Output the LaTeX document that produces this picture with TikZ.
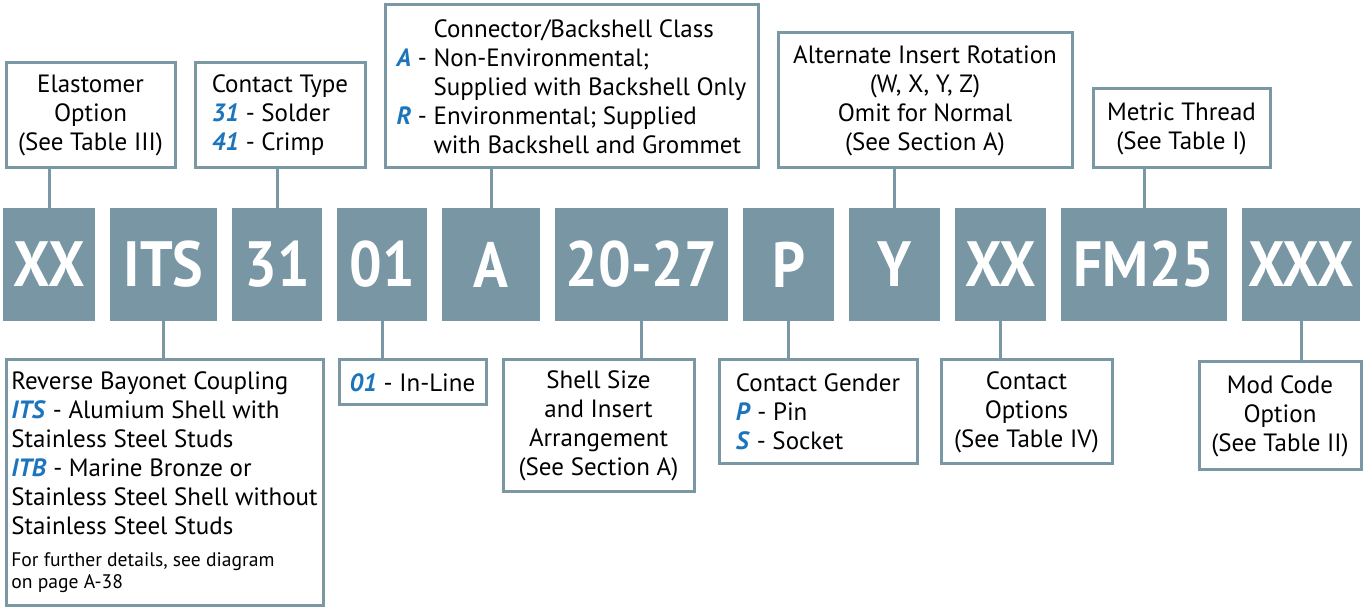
\documentclass[tikz,border=0pt]{standalone}
\usepackage{fontspec}
\setmainfont{PT Sans}
\newfontfamily\partfont[FakeStretch=0.9]{PT Sans}
\usepackage{xcolor}
\usepackage{tikz}
\usetikzlibrary{positioning}
\definecolor{slate}{HTML}{7896A3}
\definecolor{slateB}{HTML}{7A97A4}
\definecolor{selBlue}{HTML}{1C75BC}
\newcommand{\sel}[1]{\textcolor{selBlue}{\textbf{\textit{#1}}}}
\newcommand{\hang}{\phantom{\sel{A} - }}

\begin{document}
\begin{tikzpicture}[x=0.5pt, y=-0.5pt, part/.style={fill=slate, text=white, minimum height=56.5pt, inner sep=0pt, outer sep=0pt, font=\partfont\bfseries\fontsize{32}{32}\selectfont},desc/.style={draw=slateB, line width=1.5pt, fill=white, inner sep=0pt, align=center, font=\fontsize{12.5}{14.5}\selectfont},tie/.style={draw=slateB, line width=1.5pt}]
\useasboundingbox (0,0) rectangle (1365,608);
% part number
\node[part, minimum width=46pt] (elo) at (49,264.5) {XX};
\node[part, minimum width=53.5pt, right=7.5pt of elo] (its) {ITS};
\node[part, minimum width=45pt, right=7.5pt of its] (ctype) {31};
\node[part, minimum width=45pt, right=7.5pt of ctype] (line) {01};
\node[part, minimum width=49pt, right=7.5pt of line] (cls) {A};
\node[part, minimum width=86.5pt, right=7.5pt of cls] (size) {20-27};
\node[part, minimum width=45.5pt, right=7.5pt of size] (gen) {P};
\node[part, minimum width=45.5pt, right=7.5pt of gen] (rot) {Y};
\node[part, minimum width=45.5pt, right=7.5pt of rot] (opt) {XX};
\node[part, minimum width=83pt, right=7.5pt of opt] (thr) {FM25};
\node[part, minimum width=59pt, right=7.5pt of thr] (mod) {XXX};
% above the row
\node[desc, minimum width=84.5pt, minimum height=52.5pt] (elo-d) at (90.5,115.5) {Elastomer\\Option\\(See Table III)};
\node[desc, align=left, minimum width=85pt, minimum height=52.5pt] (ctype-d) at (280,115.5) {Contact Type\\\sel{31} - Solder\\\sel{41} - Crimp};
\node[desc, align=left, minimum width=186.5pt, minimum height=81.5pt] (cls-d) at (571.5,86.5) {\hang Connector/Backshell Class\\\sel{A} - Non-Environmental;\\\hang Supplied with Backshell Only\\\sel{R} - Environmental; Supplied\\\hang with Backshell and Grommet};
\node[desc, minimum width=147pt, minimum height=67.5pt] (rot-d) at (925,100.5) {Alternate Insert Rotation\\(W, X, Y, Z)\\Omit for Normal\\(See Section A)};
\node[desc, minimum width=88.5pt, minimum height=39.5pt] (thr-d) at (1181.5,128.5) {Metric Thread\\(See Table I)};
% below the row
\node[desc, align=left, minimum width=158.5pt, minimum height=123pt] (its-d) at (164.5,483) {Reverse Bayonet Coupling\\\sel{ITS} - Alumium Shell with\\Stainless Steel Studs\\\sel{ITB} - Marine Bronze or\\Stainless Steel Shell without\\Stainless Steel Studs\\[1.5pt]{\fontsize{9.8}{11}\selectfont\begin{tabular}[t]{@{}l@{}}For further details, see diagram\\on page A-38\end{tabular}}};
\node[desc, minimum width=73.5pt, minimum height=22.5pt] (line-d) at (412.5,382.5) {\sel{01} - In-Line};
\node[desc, minimum width=95.5pt, minimum height=66pt] (size-d) at (598.5,426) {Shell Size\\and Insert\\Arrangement\\(See Section A)};
\node[desc, align=left, minimum width=99pt, minimum height=52pt] (gen-d) at (818,412) {Contact Gender\\\sel{P} - Pin\\\sel{S} - Socket};
\node[desc, minimum width=85.5pt, minimum height=52pt] (opt-d) at (1026.5,412) {Contact\\Options\\(See Table IV)};
\node[desc, minimum width=81pt, minimum height=54pt] (mod-d) at (1280,416) {Mod Code\\Option\\(See Table II)};
% ties
\draw[tie] (elo.north) -- (elo.north |- elo-d.south);
\draw[tie] (ctype.north) -- (ctype.north |- ctype-d.south);
\draw[tie] (cls.north) -- (cls.north |- cls-d.south);
\draw[tie] (rot.north) -- (rot.north |- rot-d.south);
\draw[tie] (thr.north) -- (thr.north |- thr-d.south);
\draw[tie] (its.south) -- (its.south |- its-d.north);
\draw[tie] (line.south) -- (line.south |- line-d.north);
\draw[tie] (size.south) -- (size.south |- size-d.north);
\draw[tie] (gen.south) -- (gen.south |- gen-d.north);
\draw[tie] (opt.south) -- (opt.south |- opt-d.north);
\draw[tie] (mod.south) -- (mod.south |- mod-d.north);
\end{tikzpicture}
\end{document}
